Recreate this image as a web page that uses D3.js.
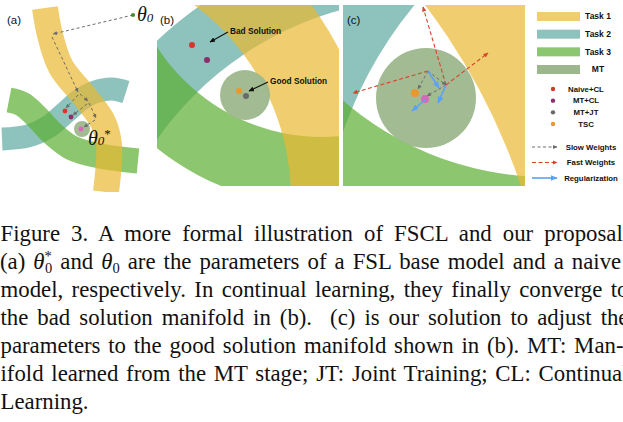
<!DOCTYPE html>
<html><head><meta charset="utf-8">
<script src="https://cdn.jsdelivr.net/npm/d3@7"></script>
<style>body{margin:0;background:#fff}svg{display:block}text{white-space:pre}</style>
</head><body>
<svg id="c" width="623" height="422"></svg>
<script>
// ================= DATA =================
const taskNames   = ["Task 1", "Task 2", "Task 3", "MT"];
const methodNames = ["Naive+CL", "MT+CL", "MT+JT", "TSC"];
const arrowNames  = ["Slow Weights", "Fast Weights", "Regularization"];
const panelLabels = ["(a)", "(b)", "(c)"];

// panel (a): task manifolds as centre-lines in parameter space, with thickness
const manifoldA_task1 = [[45,8],[50,35],[61,67],[85,97],[103,122],[109,145],[106,192]];
const manifoldA_task2 = [[126,92],[112,89],[95,92],[80,100],[66,112],[48,127],[28,136],[2,139]];
const manifoldA_task3 = [[9,100],[22,104],[36,116],[52,133],[72,148],[100,156],[138,161]];
const manifoldA_thick = [26, 23, 25];            // task1, task2, task3
const mtA = [82, 129, 8];                          // cx, cy, r
const theta0 = [133, 15];
const thetaStar = [81, 129];
const pointsA = [["Naive+CL", 65, 111], ["MT+CL", 71, 117]];
const slowA = [[[133,15],[53,34]], [[52,37],[78,92]], [[80,94],[88,101]], [[89,103],[96,118]],
               [[78,95],[66,108]], [[87,104],[73,115]], [[95,120],[84,127]]];

// panel (b): manifolds as rings [cx, cy, rInner, rOuter]
const ringsB = [["Task 2", 272, 325, 332, 397], ["Task 3", 165, -64, 196, 265], ["Task 1", -107, 193, 241, 325]];
const mtB = [88, 90, 25];
const pointsB = [["Naive+CL", 35, 40], ["MT+CL", 50, 55], ["TSC", 82, 86], ["MT+JT", 89, 91]];
const notesB = [["Bad Solution", [73, 29], [71, 27], [53, 37]], ["Good Solution", [113, 79], [111, 77], [92, 86]]];

// panel (c)
const ringsC = [["Task 2", 383, 259, 405, 520], ["Task 3", 205, -141, 313, 450], ["Task 1", -422, 383, 633, 760]];
const mtC = [83, 93, 50];
const pointsC = [["TSC", 72, 88], ["base", 82, 94]];
const slowC = [[[85,66],[75,84]], [[85,66],[103,80]], [[103,80],[84,91]]];
const fastC = [[[85,66],[10,88]], [[103,80],[80,2]], [[103,80],[145,48]]];
const regC  = [[[85,66],[96,83]], [[103,80],[95,98]], [[83,94],[69,106]]];

const captionLines = [
  "Figure 3. A more formal illustration of FSCL and our proposal.",
  null,
  "model, respectively. In continual learning, they finally converge to",
  "the bad solution manifold in (b).  (c) is our solution to adjust the",
  "parameters to the good solution manifold shown in (b). MT: Man-",
  "ifold learned from the MT stage; JT: Joint Training; CL: Continual",
  "Learning."
];

// ================= STYLE =================
const taskColor = {"Task 1":"#EAB830", "Task 2":"#5CA99F", "Task 3":"#5BAE30"};
const taskOpacity = 0.7;
const mtColor = "#9DB78D";
const methodColor = {"Naive+CL":"#D9352A", "MT+CL":"#8C2D6E", "MT+JT":"#6A6A6A", "TSC":"#EA982C", "base":"#E064B8"};
const arrowStyle = {"Slow Weights":{c:"#6d6d6d", dash:"3,2.5", w:1, m:"mSlow"},
                    "Fast Weights":{c:"#D8432C", dash:"4,2.5", w:1.1, m:"mFast"},
                    "Regularization":{c:"#5AA2F2", dash:null, w:1.6, m:"mReg"}};
const SANS = "'Liberation Sans', Arial, Helvetica, sans-serif";
const SERIF = "'Liberation Serif', 'Times New Roman', serif";

// ================= DRAW =================
const svg = d3.select("#c");
const defs = svg.append("defs");
function marker(id, color, w, h) {
  defs.append("marker").attr("id", id).attr("viewBox", `0 0 ${w} ${h}`)
    .attr("refX", w - 0.5).attr("refY", h / 2).attr("markerWidth", w).attr("markerHeight", h)
    .attr("markerUnits", "userSpaceOnUse").attr("orient", "auto")
    .append("path").attr("d", `M0,0L${w},${h/2}L0,${h}Z`).attr("fill", color);
}
marker("mSlow", "#6d6d6d", 4.5, 4);
marker("mFast", "#D8432C", 5, 4.5);
marker("mReg", "#5AA2F2", 7, 6);
marker("mBlack", "#111", 5.5, 5);

function scales(x0, y0, w, h) {
  return {x: d3.scaleLinear().domain([0, w]).range([x0, x0 + w]),
          y: d3.scaleLinear().domain([0, h]).range([y0, y0 + h]),
          len: v => v};
}
const sA = scales(0, 0, 156, 192), sB = scales(157, 5, 182, 181), sC = scales(343, 5, 182, 181);

function clip(id, s) {
  defs.append("clipPath").attr("id", id).append("rect")
    .attr("x", s.x(0)).attr("y", s.y(0))
    .attr("width", s.x.range()[1] - s.x.range()[0]).attr("height", s.y.range()[1] - s.y.range()[0]);
}
clip("cpB", sB); clip("cpC", sC); clip("cpA", sA);

function drawArrows(g, s, list, name) {
  const st = arrowStyle[name];
  g.selectAll(null).data(list).join("line")
    .attr("x1", d => s.x(d[0][0])).attr("y1", d => s.y(d[0][1]))
    .attr("x2", d => s.x(d[1][0])).attr("y2", d => s.y(d[1][1]))
    .attr("stroke", st.c).attr("stroke-width", st.w)
    .attr("stroke-dasharray", st.dash).attr("marker-end", `url(#${st.m})`);
}
function drawDots(g, s, list, r) {
  g.selectAll(null).data(list).join("circle")
    .attr("cx", d => s.x(d[1])).attr("cy", d => s.y(d[2])).attr("r", r)
    .attr("fill", d => methodColor[d[0]]);
}
function drawMT(g, s, c) {
  g.append("circle").attr("cx", s.x(c[0])).attr("cy", s.y(c[1])).attr("r", s.len(c[2]))
    .attr("fill", mtColor).attr("opacity", 0.95);
}
function drawRings(g, s, rings) {
  g.selectAll(null).data(rings).join("path")
    .attr("transform", d => `translate(${s.x(d[1])},${s.y(d[2])})`)
    .attr("d", d => d3.arc()({innerRadius: s.len(d[3]), outerRadius: s.len(d[4]), startAngle: 0, endAngle: 2 * Math.PI}))
    .attr("fill", d => taskColor[d[0]]).attr("fill-opacity", taskOpacity);
}

// ---- panel (a)
const gA = svg.append("g").attr("clip-path", "url(#cpA)");
const lineA = d3.line().x(d => sA.x(d[0])).y(d => sA.y(d[1])).curve(d3.curveCatmullRom.alpha(0.5));
const bandsA = [["Task 2", manifoldA_task2, manifoldA_thick[1]], ["Task 3", manifoldA_task3, manifoldA_thick[2]], ["Task 1", manifoldA_task1, manifoldA_thick[0]]];
gA.selectAll(null).data(bandsA).join("path")
  .attr("d", d => lineA(d[1])).attr("fill", "none")
  .attr("stroke", d => taskColor[d[0]]).attr("stroke-opacity", taskOpacity)
  .attr("stroke-width", d => sA.len(d[2])).attr("stroke-linecap", "butt");
drawMT(gA, sA, mtA);
const gA2 = svg.append("g");
drawArrows(gA2, sA, slowA, "Slow Weights");
drawDots(gA2, sA, pointsA, 2.4);
gA2.append("circle").attr("cx", sA.x(thetaStar[0])).attr("cy", sA.y(thetaStar[1])).attr("r", 2.4).attr("fill", methodColor.base);
gA2.append("circle").attr("cx", sA.x(theta0[0])).attr("cy", sA.y(theta0[1])).attr("r", 2).attr("fill", "#3E8A2C");
const t0 = gA2.append("text").attr("x", sA.x(theta0[0]) + 4).attr("y", sA.y(theta0[1]) + 6)
  .attr("font-family", SERIF).attr("font-style", "italic").attr("font-size", 20).attr("fill", "#111");
t0.append("tspan").text("θ");
t0.append("tspan").attr("font-size", 13).attr("dy", 1).text("0");
const ts = gA2.append("text").attr("x", sA.x(88)).attr("y", sA.y(145))
  .attr("font-family", SERIF).attr("font-style", "italic").attr("font-size", 20).attr("fill", "#111");
ts.append("tspan").text("θ");
ts.append("tspan").attr("font-size", 13).attr("dy", 0).text("0");
ts.append("tspan").attr("font-size", 13).attr("font-style", "normal").attr("dy", -7).text("*");

// ---- panel (b)
const gB = svg.append("g").attr("clip-path", "url(#cpB)");
drawRings(gB, sB, ringsB);
drawMT(gB, sB, mtB);
drawDots(gB, sB, pointsB, 3);
notesB.forEach(n => {
  gB.append("line").attr("x1", sB.x(n[2][0])).attr("y1", sB.y(n[2][1]))
    .attr("x2", sB.x(n[3][0])).attr("y2", sB.y(n[3][1]))
    .attr("stroke", "#111").attr("stroke-width", 1.1).attr("marker-end", "url(#mBlack)");
  gB.append("text").attr("x", sB.x(n[1][0])).attr("y", sB.y(n[1][1]))
    .attr("font-family", SANS).attr("font-weight", "bold").attr("font-size", 8.3).attr("fill", "#111").text(n[0]);
});

// ---- panel (c)
const gC = svg.append("g").attr("clip-path", "url(#cpC)");
drawRings(gC, sC, ringsC);
drawMT(gC, sC, mtC);
drawDots(gC, sC, pointsC, 4);
drawArrows(gC, sC, fastC, "Fast Weights");
drawArrows(gC, sC, slowC, "Slow Weights");
drawArrows(gC, sC, regC, "Regularization");

// ---- panel labels
const labelPos = [[7, 24], [160, 24], [347, 24]];
svg.selectAll(null).data(panelLabels).join("text")
  .attr("x", (d, i) => labelPos[i][0]).attr("y", (d, i) => labelPos[i][1])
  .attr("font-family", SANS).attr("font-size", 11.5).attr("fill", "#111").text(d => d);

// ---- legend
const gL = svg.append("g").attr("font-family", SANS).attr("font-weight", "bold").attr("fill", "#111");
const yTask = d3.scalePoint().domain(taskNames).range([16.5, 69.5]);
const yMeth = d3.scalePoint().domain(methodNames).range([89, 124]);
const yArr  = d3.scalePoint().domain(arrowNames).range([147, 178]);
gL.selectAll(null).data(taskNames).join("rect")
  .attr("x", 537).attr("y", d => yTask(d) - 4.5).attr("width", 43).attr("height", 9)
  .attr("fill", d => d === "MT" ? mtColor : taskColor[d]).attr("fill-opacity", d => d === "MT" ? 1 : taskOpacity);
gL.selectAll(null).data(taskNames).join("text")
  .attr("x", 598).attr("y", d => yTask(d)).attr("dy", "0.35em").attr("text-anchor", "middle")
  .attr("font-size", 8.5).text(d => d);
gL.selectAll(null).data(methodNames).join("circle")
  .attr("cx", 553).attr("cy", d => yMeth(d)).attr("r", 2.2).attr("fill", d => methodColor[d]);
gL.selectAll(null).data(methodNames).join("text")
  .attr("x", 586).attr("y", d => yMeth(d)).attr("dy", "0.35em").attr("text-anchor", "middle")
  .attr("font-size", 7.8).text(d => d);
arrowNames.forEach(n => {
  const st = arrowStyle[n];
  gL.append("line").attr("x1", 532).attr("x2", 557).attr("y1", yArr(n)).attr("y2", yArr(n))
    .attr("stroke", st.c).attr("stroke-width", st.w).attr("stroke-dasharray", st.dash)
    .attr("marker-end", `url(#${st.m})`);
});
gL.selectAll(null).data(arrowNames).join("text")
  .attr("x", 591).attr("y", d => yArr(d)).attr("dy", "0.35em").attr("text-anchor", "middle")
  .attr("font-size", 7.8).text(d => d);

// ---- caption
const gT = svg.append("g").attr("font-family", SERIF).attr("font-size", 22.8).attr("fill", "#111");
const yCap = d3.scaleLinear().domain([0, 6]).range([241, 409]);
const justify = [628, 628, 628, 628, 623, 628, null];
captionLines.forEach((ln, i) => {
  const t = gT.append("text").attr("x", i === 1 ? 0 : 0.5).attr("y", yCap(i));
  let spaces;
  if (ln === null) {
    t.append("tspan").text("(a) ");
    t.append("tspan").attr("font-style", "italic").text("θ");
    t.append("tspan").attr("font-size", 14.5).attr("dy", -8).text("*");
    t.append("tspan").attr("font-size", 14.5).attr("dx", -6.8).attr("dy", 12).text("0");
    t.append("tspan").attr("dy", -4).text(" and ");
    t.append("tspan").attr("font-style", "italic").text("θ");
    t.append("tspan").attr("font-size", 14.5).attr("dy", 4).text("0");
    t.append("tspan").attr("dy", -4).text(" are the parameters of a FSL base model and a naive");
    spaces = 14;
  } else {
    t.text(ln);
    spaces = (ln.match(/ /g) || []).length;
  }
  if (justify[i]) {
    const nat = t.node().getComputedTextLength();
    t.attr("word-spacing", (justify[i] - nat) / spaces);
  }
});
</script>
</body></html>
